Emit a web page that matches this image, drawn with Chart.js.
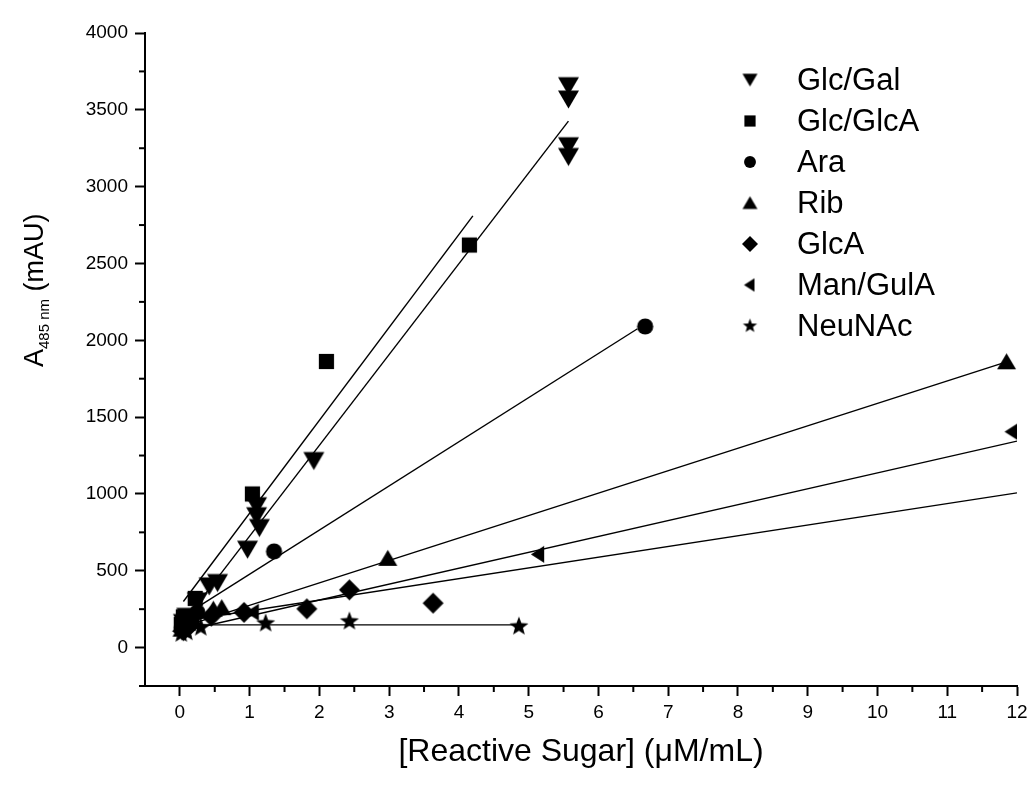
<!DOCTYPE html>
<html>
<head>
<meta charset="utf-8">
<script src="https://cdn.jsdelivr.net/npm/chart.js@4.4.1/dist/chart.umd.min.js"></script>
<style>
  html, body { margin: 0; padding: 0; background: #fff; }
  #wrap { width: 1035px; height: 789px; }
</style>
</head>
<body>
<div id="wrap"><canvas id="myChart" width="1035" height="789"></canvas></div>
<script>
// series names, in legend order
const seriesNames = ['Glc/Gal', 'Glc/GlcA', 'Ara', 'Rib', 'GlcA', 'Man/GulA', 'NeuNAc'];

const glcGalX = [5.57, 5.57, 5.57, 5.57, 1.92, 1.10, 1.10, 1.14, 0.97, 0.54, 0.42, 0.25, 0.10, 0.05];
const glcGalY = [3654, 3567, 3263, 3193, 1214, 920, 855, 778, 637, 420, 398, 300, 200, 160];
const glcGlcAX = [4.15, 2.10, 1.04, 0.22, 0.05, 0.02];
const glcGlcAY = [2620, 1862, 1000, 320, 200, 150];
const araX = [6.67, 1.35, 0.25, 0.10, 0.03];
const araY = [2090, 626, 230, 170, 130];
const ribX = [11.85, 2.98, 0.60, 0.48, 0.10, 0.03];
const ribY = [1860, 581, 260, 250, 160, 120];
const glcAX = [3.63, 2.43, 1.82, 0.92, 0.45, 0.15, 0.05];
const glcAY = [289, 376, 252, 229, 205, 150, 110];
const manGulAX = [11.93, 5.14, 1.05, 0.20, 0.05];
const manGulAY = [1405, 607, 230, 170, 120];
const neuNAcX = [4.86, 2.43, 1.23, 0.30, 0.10, 0.02];
const neuNAcY = [137, 170, 157, 130, 100, 90];

// linear fit lines (start and end)
const glcGalFitX = [0.05, 5.57];
const glcGalFitY = [164, 3426];
const glcGlcAFitX = [0.05, 4.20];
const glcGlcAFitY = [300, 2810];
const araFitX = [0.05, 6.56];
const araFitY = [205, 2075];
const ribFitX = [0.05, 11.85];
const ribFitY = [136, 1860];
const glcAFitX = [0.05, 12.0];
const glcAFitY = [173, 1007];
const manGulAFitX = [0.05, 12.0];
const manGulAFitY = [108, 1344];
const neuNAcFitX = [0.02, 4.86];
const neuNAcFitY = [148, 148];

// axis ticks
const xTicks = [0, 1, 2, 3, 4, 5, 6, 7, 8, 9, 10, 11, 12];
const yTicks = [0, 500, 1000, 1500, 2000, 2500, 3000, 3500, 4000];
const xMinorTicks = [0.5, 1.5, 2.5, 3.5, 4.5, 5.5, 6.5, 7.5, 8.5, 9.5, 10.5, 11.5];
const yMinorTicks = [-250, 250, 750, 1250, 1750, 2250, 2750, 3250, 3750];

const FONT = '"Liberation Sans", Arial, sans-serif';

function toPoints(xs, ys) {
  return xs.map((x, i) => ({ x: x, y: ys[i] }));
}

// filled black markers drawn on a small canvas
function makeMarker(shape, size) {
  const c = document.createElement('canvas');
  c.width = size + 2;
  c.height = size + 2;
  const g = c.getContext('2d');
  const cx = c.width / 2, cy = c.height / 2, r = size / 2;
  g.fillStyle = '#000';
  g.beginPath();
  if (shape === 'down') {
    g.moveTo(cx - r, cy - r * 0.85);
    g.lineTo(cx + r, cy - r * 0.85);
    g.lineTo(cx, cy + r * 0.85);
  } else if (shape === 'up') {
    g.moveTo(cx - r, cy + r * 0.8);
    g.lineTo(cx + r, cy + r * 0.8);
    g.lineTo(cx, cy - r * 0.9);
  } else if (shape === 'square') {
    g.rect(cx - r * 0.8, cy - r * 0.8, r * 1.6, r * 1.6);
  } else if (shape === 'circle') {
    g.arc(cx, cy, r * 0.85, 0, Math.PI * 2);
  } else if (shape === 'diamond') {
    g.moveTo(cx, cy - r);
    g.lineTo(cx + r, cy);
    g.lineTo(cx, cy + r);
    g.lineTo(cx - r, cy);
  } else if (shape === 'left') {
    g.moveTo(cx - r * 0.8, cy);
    g.lineTo(cx + r * 0.6, cy - r * 0.9);
    g.lineTo(cx + r * 0.6, cy + r * 0.9);
  } else if (shape === 'star') {
    for (let k = 0; k < 10; k++) {
      const rad = k % 2 === 0 ? r : r * 0.42;
      const a = -Math.PI / 2 + k * Math.PI / 5;
      const px = cx + rad * Math.cos(a), py = cy + rad * Math.sin(a);
      if (k === 0) g.moveTo(px, py); else g.lineTo(px, py);
    }
  }
  g.closePath();
  g.fill();
  return c;
}

const shapes = ['down', 'square', 'circle', 'up', 'diamond', 'left', 'star'];
const pointSizes = [21, 19, 19, 19, 21, 19, 20];
const legendSizes = [15, 14, 14, 15, 16, 15, 15];
const pointImgs = shapes.map((s, i) => makeMarker(s, pointSizes[i]));
const legendImgs = shapes.map((s, i) => makeMarker(s, legendSizes[i]));

const pointSets = [
  [glcGalX, glcGalY], [glcGlcAX, glcGlcAY], [araX, araY], [ribX, ribY],
  [glcAX, glcAY], [manGulAX, manGulAY], [neuNAcX, neuNAcY]
];
const fitSets = [
  [glcGalFitX, glcGalFitY], [glcGlcAFitX, glcGlcAFitY], [araFitX, araFitY], [ribFitX, ribFitY],
  [glcAFitX, glcAFitY], [manGulAFitX, manGulAFitY], [neuNAcFitX, neuNAcFitY]
];

let datasets = [];
seriesNames.forEach((name, i) => {
  datasets.push({
    label: name,
    data: toPoints(pointSets[i][0], pointSets[i][1]),
    pointStyle: pointImgs[i],
    showLine: false
  });
});
// fit lines go after the markers so they are drawn underneath
seriesNames.forEach((name, i) => {
  datasets.push({
    label: name + ' fit',
    data: toPoints(fitSets[i][0], fitSets[i][1]),
    showLine: true,
    borderColor: '#000',
    borderWidth: 1.4,
    pointRadius: 0,
    fill: false
  });
});

// minor ticks between labelled ones
const minorTicks = {
  id: 'minorTicks',
  afterDraw(chart) {
    const { ctx, scales: { x, y } } = chart;
    ctx.save();
    ctx.strokeStyle = '#000';
    ctx.lineWidth = 2;
    xMinorTicks.forEach(v => {
      const px = x.getPixelForValue(v);
      ctx.beginPath();
      ctx.moveTo(px, y.bottom);
      ctx.lineTo(px, y.bottom + 6);
      ctx.stroke();
    });
    yMinorTicks.forEach(v => {
      const py = y.getPixelForValue(v);
      ctx.beginPath();
      ctx.moveTo(x.left, py);
      ctx.lineTo(x.left - 6, py);
      ctx.stroke();
    });
    ctx.restore();
  }
};

// y title with subscript
const yTitle = {
  id: 'yTitle',
  afterDraw(chart) {
    const ctx = chart.ctx;
    ctx.save();
    ctx.translate(43, 367);
    ctx.rotate(-Math.PI / 2);
    ctx.fillStyle = '#000';
    ctx.textBaseline = 'alphabetic';
    ctx.textAlign = 'left';
    ctx.font = '27px ' + FONT;
    ctx.fillText('A', 0, 0);
    let w = ctx.measureText('A').width;
    ctx.font = '15px ' + FONT;
    ctx.fillText('485 nm', w, 6);
    w += ctx.measureText('485 nm').width;
    ctx.font = '27px ' + FONT;
    ctx.fillText(' (mAU)', w, 0);
    ctx.restore();
  }
};

// legend in the upper right of the plot
const sideLegend = {
  id: 'sideLegend',
  afterDraw(chart) {
    const ctx = chart.ctx;
    ctx.save();
    ctx.fillStyle = '#000';
    ctx.font = '31px ' + FONT;
    ctx.textBaseline = 'middle';
    ctx.textAlign = 'left';
    seriesNames.forEach((name, i) => {
      const yy = 80 + i * 41;
      const img = legendImgs[i];
      ctx.drawImage(img, 750 - img.width / 2, yy - img.height / 2);
      ctx.fillText(name, 797, yy + 1);
    });
    ctx.restore();
  }
};

function setTicks(values) {
  return function (scale) {
    scale.ticks = values.map(v => ({ value: v }));
  };
}

var ctx = document.getElementById('myChart').getContext('2d');
var myChart = new Chart(ctx, {
  type: 'scatter',
  data: { datasets: datasets },
  plugins: [minorTicks, yTitle, sideLegend],
  options: {
    responsive: false,
    animation: false,
    layout: { padding: { left: 0, right: 18, top: 33, bottom: 0 } },
    plugins: {
      legend: { display: false },
      tooltip: { enabled: false }
    },
    scales: {
      x: {
        type: 'linear',
        min: -0.5,
        max: 12,
        afterBuildTicks: setTicks(xTicks),
        afterFit: function (scale) { scale.height = 103; },
        border: { display: true, color: '#000', width: 2 },
        grid: { drawOnChartArea: false, drawTicks: true, tickLength: 10, tickColor: '#000', tickWidth: 2 },
        ticks: {
          autoSkip: false,
          maxRotation: 0,
          color: '#000',
          padding: 5,
          font: { family: FONT, size: 19 },
          callback: v => String(v)
        },
        title: {
          display: true,
          text: '[Reactive Sugar] (\u03bcM/mL)',
          color: '#000',
          font: { family: FONT, size: 32 },
          padding: { top: 0, bottom: 18 }
        }
      },
      y: {
        type: 'linear',
        min: -250,
        max: 4000,
        afterBuildTicks: setTicks(yTicks),
        afterFit: function (scale) { scale.width = 145; },
        border: { display: true, color: '#000', width: 2 },
        grid: { drawOnChartArea: false, drawTicks: true, tickLength: 10, tickColor: '#000', tickWidth: 2 },
        ticks: {
          autoSkip: false,
          color: '#000',
          padding: 7,
          font: { family: FONT, size: 19 },
          callback: v => String(v)
        }
      }
    }
  }
});
</script>
</body>
</html>
